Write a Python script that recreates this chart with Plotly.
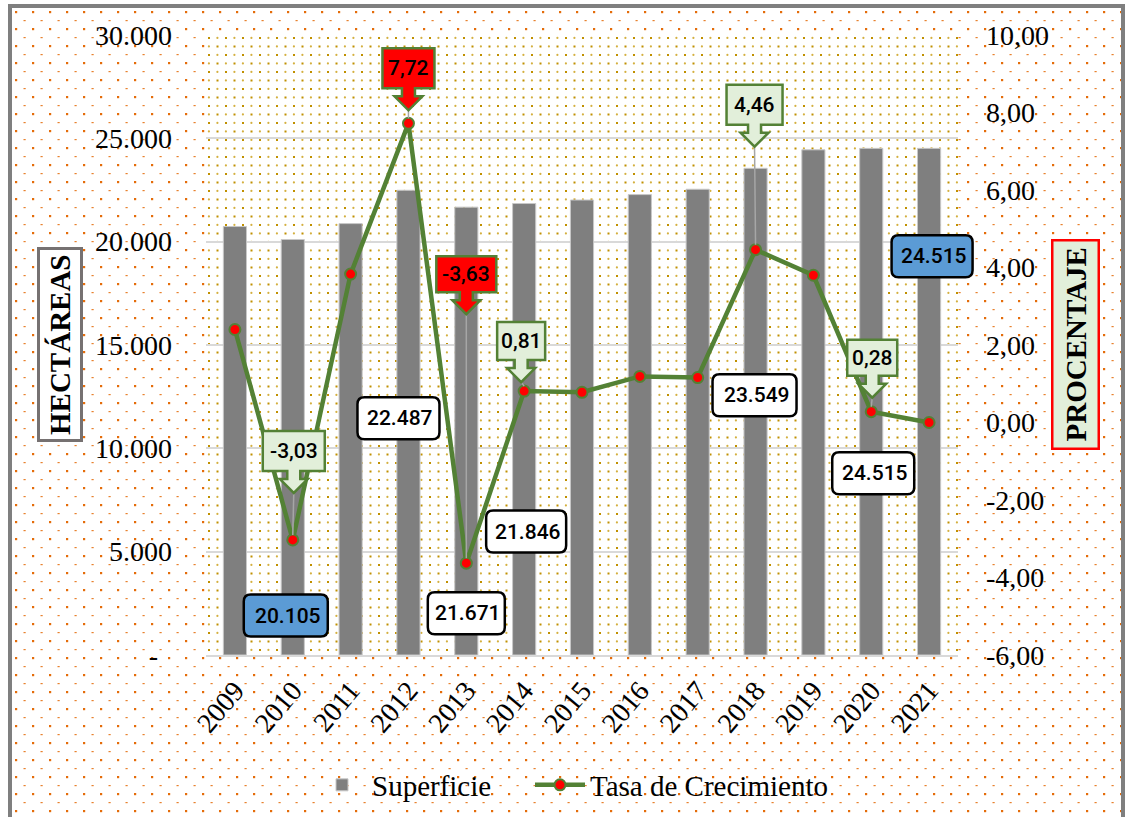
import base64
import plotly.graph_objects as go

# ---------------- data ----------------
years = [2009, 2010, 2011, 2012, 2013, 2014, 2015, 2016, 2017, 2018, 2019, 2020, 2021]
superficie = [20733, 20105, 20875, 22487, 21671, 21846, 22016, 22278, 22537, 23549, 24444, 24515, 24515]
tasa = [2.40, -3.03, 3.83, 7.72, -3.63, 0.81, 0.78, 1.19, 1.16, 4.46, 3.80, 0.28, 0.00]

left_tickvals = [0, 5000, 10000, 15000, 20000, 25000, 30000]
left_ticktext = ["-\u00a0\u00a0", "5.000", "10.000", "15.000", "20.000", "25.000", "30.000"]
right_tickvals = [-6, -4, -2, 0, 2, 4, 6, 8, 10]
right_ticktext = ["-6,00", "-4,00", "-2,00", "0,00", "2,00", "4,00", "6,00", "8,00", "10,00"]

X_RANGE = [2008.5, 2021.5]
Y_RANGE = [0, 30000]
Y2_RANGE = [-6, 10]

# --------------- layout geometry (pixels) ---------------
W, H = 1125, 817
L, R, T, B = 206, 167, 35, 162
PW, PH = W - L - R, H - T - B


def px2paper_x(px):
    return (px - L) / PW


def px2paper_y(py):
    return (H - B - py) / PH


def pattern_uri(w, h, pw, ph, elems, bg="white"):
    svg = (
        f'<svg xmlns="http://www.w3.org/2000/svg" width="{w}" height="{h}" '
        f'viewBox="0 0 {w} {h}" preserveAspectRatio="none"><defs>'
        f'<pattern id="p" x="0" y="0" width="{pw}" height="{ph}" patternUnits="userSpaceOnUse">'
        f'{elems}</pattern></defs>'
        f'<rect width="100%" height="100%" fill="{bg}"/>'
        f'<rect width="100%" height="100%" fill="url(#p)"/></svg>'
    )
    return "data:image/svg+xml;base64," + base64.b64encode(svg.encode()).decode()


paper_dots = (
    '<rect x="3" y="3" width="2.2" height="2.2" fill="#E46C0A"/>'
    '<rect x="11.5" y="12" width="2.2" height="1.2" fill="#E46C0A" opacity="0.85"/>'
)
plot_dots = (
    '<rect x="2" y="2" width="2" height="2" fill="#C09000"/>'
    '<circle cx="11.4" cy="2.9" r="1.1" fill="#D4B040"/>'
    '<circle cx="2.9" cy="11.4" r="1.1" fill="#D4B040"/>'
    '<rect x="10.5" y="10.5" width="2" height="2" fill="#C09000"/>'
)

fx0, fx1, fy0, fy1 = 12, 1121, 8, 817
images = [
    dict(source=pattern_uri(fx1 - fx0, fy1 - fy0, 17, 17, paper_dots),
         xref="paper", yref="paper", x=px2paper_x(fx0), y=px2paper_y(fy0),
         sizex=(fx1 - fx0) / PW, sizey=(fy1 - fy0) / PH,
         xanchor="left", yanchor="top", sizing="stretch", layer="below"),
    dict(source=pattern_uri(PW, PH, 17, 17, plot_dots),
         xref="paper", yref="paper", x=0, y=1, sizex=1, sizey=1,
         xanchor="left", yanchor="top", sizing="stretch", layer="below"),
]

GREEN = "#538135"
LIGHT = "#E2EFDA"
RED = "#FF0000"
BLUE = "#5B9BD5"
LABEL_FONT = "Roboto, Liberation Sans, sans-serif"
SERIF = "Liberation Serif, Times New Roman, serif"

fig = go.Figure()
fig.add_trace(go.Bar(
    x=years, y=superficie, name="Superficie",
    marker=dict(color="#7F7F7F", line=dict(color="#C8C8C8", width=1)),
    yaxis="y", legend="legend",
))
fig.add_trace(go.Scatter(
    x=years, y=tasa, name="Tasa de Crecimiento", yaxis="y2", legend="legend2",
    mode="lines+markers",
    line=dict(color=GREEN, width=4.5),
    marker=dict(color=RED, size=11, line=dict(color=GREEN, width=2)),
))

shapes = []
annotations = []

# callouts for the growth rate (year: dx, box centre above point, width, height, fill)
callouts = {
    2010: (1, 89, 62, 40, LIGHT),
    2012: (0, 55, 52, 40, RED),
    2013: (0, 289, 60, 36, RED),
    2014: (-3, 50, 48, 38, LIGHT),
    2018: (-1, 145, 56, 40, LIGHT),
    2020: (1, 54, 50, 36, LIGHT),
}


def callout_path(dx, up, w, h):
    l, r = dx - w / 2, dx + w / 2
    top, bot = up + h / 2, up - h / 2
    sb = bot - 8
    tip = bot - 22
    sw, hw = 6.5, 14
    pts = [(l, top), (r, top), (r, bot), (dx + sw, bot), (dx + sw, sb), (dx + hw, sb),
           (dx, tip), (dx - hw, sb), (dx - sw, sb), (dx - sw, bot), (l, bot)]
    return "M" + " L".join(f"{x:.1f},{y:.1f}" for x, y in pts) + " Z", tip


for yr, (dx, up, w, h, fill) in callouts.items():
    v = tasa[years.index(yr)]
    path, tip = callout_path(dx, up, w, h)
    if tip > 7:
        shapes.append(dict(type="line", xref="x", yref="y2", xsizemode="pixel", ysizemode="pixel",
                           xanchor=yr, yanchor=v, x0=dx, x1=0, y0=tip, y1=5,
                           line=dict(color="#A6A6A6", width=1.5), layer="above"))
    shapes.append(dict(type="path", xref="x", yref="y2", xsizemode="pixel", ysizemode="pixel",
                       xanchor=yr, yanchor=v, path=path, fillcolor=fill,
                       line=dict(color=GREEN, width=2.5), layer="above"))
    annotations.append(dict(x=yr, y=v, xref="x", yref="y2", xshift=dx, yshift=up,
                            text=f"{v:.2f}".replace(".", ","), showarrow=False,
                            xanchor="center", yanchor="middle",
                            font=dict(family=LABEL_FONT, size=21, color="black", weight=500)))

# bar value labels (year: dx, centre offset from bar top, width, height, fill)
bar_labels = {
    2010: (-7, -376, 84, 42, BLUE),
    2012: (-10, -228, 82, 42, "white"),
    2013: (0, -406, 77, 42, "white"),
    2014: (2, -328, 80, 42, "white"),
    2018: (-1, -227, 84, 42, "white"),
    2020: (2, -325, 82, 42, "white"),
    2021: (3, -108, 81, 42, BLUE),
}


def rrect_path(cx, cy, w, h, r=7):
    x0, x1 = cx - w / 2, cx + w / 2
    y0, y1 = cy - h / 2, cy + h / 2
    return (f"M{x0 + r},{y1} L{x1 - r},{y1} Q{x1},{y1} {x1},{y1 - r} L{x1},{y0 + r} "
            f"Q{x1},{y0} {x1 - r},{y0} L{x0 + r},{y0} Q{x0},{y0} {x0},{y0 + r} "
            f"L{x0},{y1 - r} Q{x0},{y1} {x0 + r},{y1} Z")


for yr, (dx, up, w, h, fill) in bar_labels.items():
    v = superficie[years.index(yr)]
    # anchors expressed as fractions of the axis ranges so that the label
    # boxes are not clipped at the plot-area edge
    fx = (yr - X_RANGE[0]) / (X_RANGE[1] - X_RANGE[0])
    fy = (v - Y_RANGE[0]) / (Y_RANGE[1] - Y_RANGE[0])
    shapes.append(dict(type="path", xref="paper", yref="paper", xsizemode="pixel", ysizemode="pixel",
                       xanchor=fx, yanchor=fy, path=rrect_path(dx, up, w, h), fillcolor=fill,
                       line=dict(color="black", width=2.5), layer="above"))
    annotations.append(dict(x=yr, y=v, xref="x", yref="y", xshift=dx + 2, yshift=up,
                            text=f"{v:,}".replace(",", "."), showarrow=False,
                            xanchor="center", yanchor="middle",
                            font=dict(family=LABEL_FONT, size=21, color="black", weight=500)))

# outer frame
shapes.append(dict(type="rect", xref="paper", yref="paper",
                   x0=px2paper_x(10), x1=px2paper_x(1123), y0=px2paper_y(835), y1=px2paper_y(6),
                   line=dict(color="#7F7F7F", width=4), fillcolor="rgba(0,0,0,0)", layer="above"))

# axis titles in boxes
annotations.append(dict(xref="paper", yref="paper", x=px2paper_x(60), y=px2paper_y(345),
                        text="<b>HECTÁREAS</b>", textangle=-90, showarrow=False,
                        xanchor="center", yanchor="middle",
                        font=dict(family=SERIF, size=29, color="black"),
                        bgcolor="white", bordercolor="#767171", borderwidth=3, borderpad=4))
annotations.append(dict(xref="paper", yref="paper", x=px2paper_x(1075), y=px2paper_y(345),
                        text="<b>PROCENTAJE</b>", textangle=-90, showarrow=False,
                        xanchor="center", yanchor="middle",
                        font=dict(family=SERIF, size=29, color="black"),
                        bgcolor=LIGHT, bordercolor=RED, borderwidth=2.5, borderpad=6))

legend_common = dict(orientation="h", xanchor="left", y=px2paper_y(785), yanchor="middle",
                     font=dict(family=SERIF, size=29), bgcolor="rgba(0,0,0,0)", itemwidth=50)

fig.update_layout(
    width=W, height=H,
    margin=dict(l=L, r=R, t=T, b=B, autoexpand=False),
    paper_bgcolor="white", plot_bgcolor="rgba(0,0,0,0)",
    images=images, shapes=shapes, annotations=annotations,
    bargap=0.6,
    font=dict(family=SERIF, color="black"),
    xaxis=dict(range=X_RANGE, tickvals=years, ticktext=[str(y) for y in years],
               tickangle=-50, tickfont=dict(family=SERIF, size=28),
               showgrid=False, showline=True, linecolor="#D9D9D9", linewidth=2,
               ticks="", ticklabelstandoff=6, zeroline=False),
    yaxis=dict(range=Y_RANGE, tickvals=left_tickvals, ticktext=left_ticktext,
               tickfont=dict(family=SERIF, size=28), showgrid=True, gridcolor="#D9D9D9",
               gridwidth=2, zeroline=False, showline=False, ticks="", ticklabelstandoff=33),
    yaxis2=dict(range=Y2_RANGE, tickvals=right_tickvals, ticktext=right_ticktext,
                overlaying="y", side="right", showgrid=False, zeroline=False,
                tickfont=dict(family=SERIF, size=28), ticks="", ticklabelstandoff=27),
    legend=dict(x=px2paper_x(312), **legend_common),
    legend2=dict(x=px2paper_x(530), **legend_common),
    showlegend=True,
)

fig.write_html("out.html", config={"displayModeBar": False},
               post_script="document.body.style.margin='0px';")
